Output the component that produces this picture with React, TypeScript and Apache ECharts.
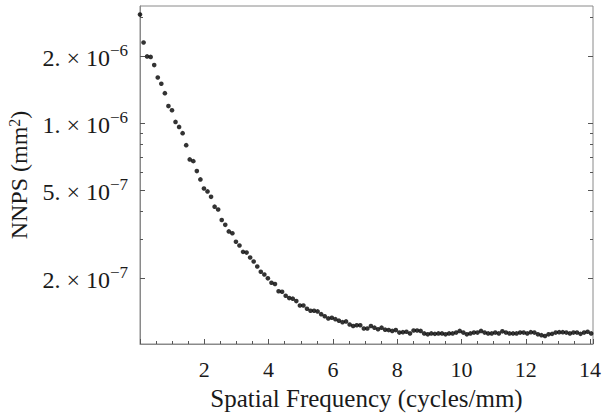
import React, { useEffect, useRef } from "react";
import * as echarts from "echarts";

const freq = [
  0.0, 0.111, 0.221, 0.332, 0.442, 0.553, 0.663, 0.774, 0.884, 0.995,
  1.105, 1.216, 1.326, 1.437, 1.547, 1.658, 1.768, 1.879, 1.989, 2.1,
  2.21, 2.321, 2.431, 2.542, 2.652, 2.763, 2.873, 2.984, 3.094, 3.205,
  3.315, 3.426, 3.536, 3.647, 3.757, 3.868, 3.978, 4.089, 4.199, 4.31,
  4.42, 4.531, 4.641, 4.752, 4.862, 4.973, 5.083, 5.194, 5.304, 5.415,
  5.525, 5.636, 5.746, 5.857, 5.967, 6.078, 6.188, 6.299, 6.409, 6.52,
  6.63, 6.741, 6.851, 6.962, 7.072, 7.183, 7.293, 7.404, 7.514, 7.625,
  7.735, 7.846, 7.956, 8.067, 8.177, 8.288, 8.398, 8.509, 8.619, 8.73,
  8.84, 8.951, 9.061, 9.172, 9.282, 9.393, 9.503, 9.614, 9.724, 9.835,
  9.945, 10.056, 10.166, 10.277, 10.387, 10.498, 10.608, 10.719, 10.829, 10.94,
  11.05, 11.161, 11.271, 11.382, 11.492, 11.603, 11.713, 11.824, 11.934, 12.045,
  12.155, 12.266, 12.376, 12.487, 12.597, 12.708, 12.818, 12.929, 13.039, 13.15,
  13.26, 13.371, 13.481, 13.592, 13.702, 13.813, 13.923, 14.034,
];

const nnps = [
  3.07e-6, 2.3e-6, 1.99e-6, 1.98e-6, 1.82e-6, 1.6e-6, 1.5e-6, 1.36e-6, 1.19e-6, 1.14e-6,
  1.01e-6, 9.59e-7, 8.99e-7, 7.94e-7, 6.85e-7, 6.73e-7, 6.07e-7, 5.57e-7, 5.07e-7, 4.92e-7,
  4.65e-7, 4.2e-7, 4.08e-7, 3.66e-7, 3.48e-7, 3.25e-7, 3.19e-7, 2.92e-7, 2.81e-7, 2.63e-7,
  2.61e-7, 2.48e-7, 2.38e-7, 2.26e-7, 2.14e-7, 2.08e-7, 2.0e-7, 1.91e-7, 1.885e-7, 1.75e-7,
  1.74e-7, 1.67e-7, 1.63e-7, 1.62e-7, 1.58e-7, 1.51e-7, 1.51e-7, 1.46e-7, 1.43e-7, 1.43e-7,
  1.42e-7, 1.38e-7, 1.35e-7, 1.32e-7, 1.33e-7, 1.31e-7, 1.29e-7, 1.27e-7, 1.28e-7, 1.24e-7,
  1.22e-7, 1.23e-7, 1.23e-7, 1.19e-7, 1.19e-7, 1.22e-7, 1.2e-7, 1.18e-7, 1.2e-7, 1.175e-7,
  1.17e-7, 1.16e-7, 1.17e-7, 1.14e-7, 1.145e-7, 1.15e-7, 1.13e-7, 1.165e-7, 1.165e-7, 1.16e-7,
  1.13e-7, 1.12e-7, 1.13e-7, 1.125e-7, 1.13e-7, 1.13e-7, 1.12e-7, 1.13e-7, 1.13e-7, 1.14e-7,
  1.16e-7, 1.14e-7, 1.12e-7, 1.13e-7, 1.14e-7, 1.14e-7, 1.16e-7, 1.14e-7, 1.13e-7, 1.13e-7,
  1.14e-7, 1.13e-7, 1.155e-7, 1.14e-7, 1.13e-7, 1.13e-7, 1.13e-7, 1.14e-7, 1.14e-7, 1.13e-7,
  1.145e-7, 1.14e-7, 1.12e-7, 1.11e-7, 1.1e-7, 1.12e-7, 1.125e-7, 1.14e-7, 1.145e-7, 1.145e-7,
  1.14e-7, 1.13e-7, 1.14e-7, 1.14e-7, 1.125e-7, 1.14e-7, 1.15e-7, 1.13e-7,
];

const yMajorValues = [2e-7, 5e-7, 1e-6, 2e-6];
const yMajorMantissa = ["2.", "5.", "1.", "2."];
const yMajorExponent = ["\u22127", "\u22127", "\u22126", "\u22126"];
const yMinorValues = [3e-7, 4e-7, 6e-7, 7e-7, 8e-7, 9e-7, 3e-6];

const FONT = "Liberation Serif";
const TEXT = "#1a1a1a";
const FRAME = "#8a8a8a";
const TICK = "#555555";
const Y_MIN = 1.013e-7;
const Y_MAX = 3.355e-6;

export default function App() {
  const ref = useRef<HTMLDivElement>(null);
  useEffect(() => {
    document.body.style.margin = "0";
    const chart = echarts.init(ref.current!, null, { renderer: "svg" });
    const labelFormatter = (v: number) => {
      const i = yMajorValues.findIndex((m) => Math.abs(v / m - 1) < 1e-3);
      if (i < 0) return "";
      return `{m|${yMajorMantissa[i]} × 10}{s|${yMajorExponent[i]}}`;
    };
    const baseY = {
      type: "log" as const,
      min: Y_MIN,
      max: Y_MAX,
      splitLine: { show: false },
      minorTick: { show: false },
    };
    chart.setOption({
      animation: false,
      backgroundColor: "#ffffff",
      grid: {
        left: 140,
        top: 6,
        right: 11,
        bottom: 74,
        show: true,
        borderColor: FRAME,
        borderWidth: 1,
        containLabel: false,
        outerBoundsMode: "none",
      },
      xAxis: {
        type: "value",
        min: 0,
        max: 14.09,
        interval: 2,
        name: "Spatial Frequency (cycles/mm)",
        nameLocation: "middle",
        nameGap: 42,
        nameTextStyle: { fontFamily: FONT, fontSize: 25, color: TEXT },
        axisLine: { show: true, lineStyle: { color: FRAME } },
        axisTick: { show: true, inside: true, length: 5, lineStyle: { color: TICK } },
        minorTick: { show: true, splitNumber: 4, length: 3, lineStyle: { color: TICK } },
        splitLine: { show: false },
        axisLabel: {
          fontFamily: FONT,
          fontSize: 22,
          color: TEXT,
          margin: 14,
          formatter: (v: number) => (v === 0 ? "" : String(v)),
        },
      },
      yAxis: [
        {
          ...baseY,
          position: "left",
          name: "NNPS (mm{s|2})",
          nameLocation: "middle",
          nameGap: 107,
          nameTextStyle: {
            fontFamily: FONT,
            fontSize: 24,
            color: TEXT,
            rich: {
              s: { fontFamily: FONT, fontSize: 16, color: TEXT, verticalAlign: "top", lineHeight: 25 },
            },
          },
          axisLine: { show: true, lineStyle: { color: FRAME } },
          axisTick: { show: true, inside: true, length: 5, customValues: yMajorValues, lineStyle: { color: TICK } },
          axisLabel: {
            show: true,
            margin: 12,
            customValues: yMajorValues,
            formatter: labelFormatter,
            rich: {
              m: { fontFamily: FONT, fontSize: 24, color: TEXT, lineHeight: 28, verticalAlign: "bottom" },
              s: { fontFamily: FONT, fontSize: 17, color: TEXT, lineHeight: 28, verticalAlign: "top" },
            },
          },
        },
        {
          ...baseY,
          position: "left",
          axisLine: { show: false },
          axisTick: { show: true, inside: true, length: 3, customValues: yMinorValues, lineStyle: { color: TICK } },
          axisLabel: { show: false },
        },
        {
          ...baseY,
          position: "right",
          axisLine: { show: false },
          axisTick: { show: true, inside: true, length: 5, customValues: yMajorValues, lineStyle: { color: TICK } },
          axisLabel: { show: false },
        },
        {
          ...baseY,
          position: "right",
          axisLine: { show: false },
          axisTick: { show: true, inside: true, length: 3, customValues: yMinorValues, lineStyle: { color: TICK } },
          axisLabel: { show: false },
        },
      ],
      series: [
        {
          type: "scatter",
          yAxisIndex: 0,
          data: freq.map((f, i) => [f, nnps[i]]),
          symbol: "circle",
          symbolSize: 4.6,
          itemStyle: { color: "#000000" },
          clip: false,
        },
      ],
    });
    return () => chart.dispose();
  }, []);
  return <div ref={ref} style={{ width: 604, height: 418 }} />;
}
